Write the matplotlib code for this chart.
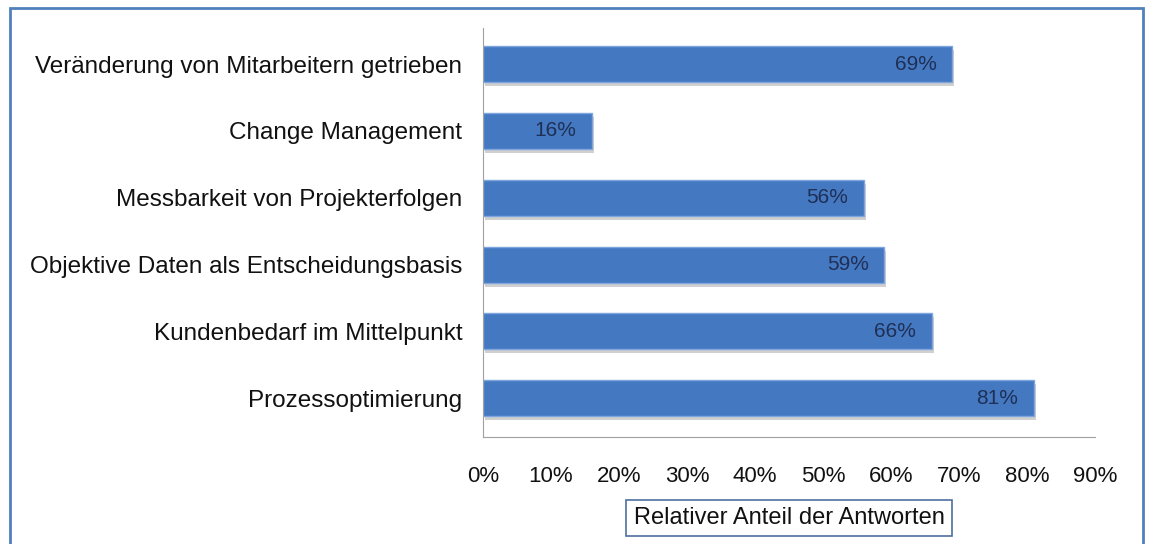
import matplotlib.pyplot as plt
from matplotlib.patches import Rectangle
from matplotlib import font_manager

categories = [
    'Veränderung von Mitarbeitern getrieben',
    'Change Management',
    'Messbarkeit von Projekterfolgen',
    'Objektive Daten als Entscheidungsbasis',
    'Kundenbedarf im Mittelpunkt',
    'Prozessoptimierung',
]
values = [69, 16, 56, 59, 66, 81]
xticks = [0, 10, 20, 30, 40, 50, 60, 70, 80, 90]
xlabel = 'Relativer Anteil der Antworten'

names = {f.name for f in font_manager.fontManager.ttflist}
family = ['Liberation Sans Narrow', 'Liberation Sans', 'DejaVu Sans']
family = [f for f in family if f in names] or ['DejaVu Sans']
plt.rcParams['font.family'] = family

fig = plt.figure(figsize=(11.52, 5.44), dpi=100)
ax = fig.add_axes([0.4193, 0.1967, 0.5312, 0.7518])

# outer frame
fig.patches.append(Rectangle((10 / 1152, -0.05), 1133 / 1152, 1.05 - 8 / 544,
                             transform=fig.transFigure, fill=False,
                             edgecolor='#4F81BD', linewidth=2))

y = list(range(len(categories)))
# shadow
ax.barh([p + 0.06 for p in y], values, height=0.54, left=0.3,
        color='#D0D0D0', zorder=1)
bars = ax.barh(y, values, height=0.54, color='#4479C2',
               edgecolor='#7FA6DC', linewidth=1, zorder=2)

for p, v in zip(y, values):
    ax.text(v - 2.3, p, f'{v}%', ha='right', va='center',
            fontsize=15, color='#1F2F55', zorder=3)

ax.set_ylim(len(categories) - 0.42, -0.54)
ax.set_xlim(0, 90)
ax.set_yticks(y)
ax.set_yticklabels(categories, fontsize=17.5, color='#111111')
ax.set_xticks(xticks)
ax.set_xticklabels([f'{t}%' for t in xticks], fontsize=16, color='#111111')
ax.tick_params(axis='both', length=0)
ax.tick_params(axis='y', pad=15)
ax.tick_params(axis='x', pad=21)

for s in ['top', 'right']:
    ax.spines[s].set_visible(False)
ax.spines['left'].set_color('#A0A0A0')
ax.spines['bottom'].set_color('#A0A0A0')

ax.set_xlabel(xlabel, fontsize=17, labelpad=14, color='#111111',
              bbox=dict(boxstyle='square,pad=0.3', facecolor='white',
                        edgecolor='#4F6FA0', linewidth=1.2))

fig.savefig('out.png', dpi=100)
